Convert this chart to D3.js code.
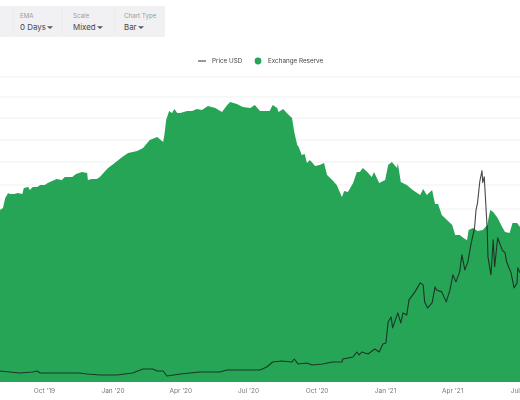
<!DOCTYPE html>
<html>
<head>
<meta charset="utf-8">
<script src="https://cdn.jsdelivr.net/npm/d3@7"></script>
<style>
html,body{margin:0;padding:0;background:#fff;overflow:hidden}
svg{display:block;filter:blur(0.35px);font-family:Inter,Roboto,sans-serif}
</style>
</head>
<body>
<svg id="chart" width="520" height="400"></svg>
<script>
const startDate = "2019-08-03";
const endDate = "2021-07-01";
const xTickDates = ["2019-10-01","2020-01-01","2020-04-01","2020-07-01","2020-10-01","2021-01-01","2021-04-01","2021-07-01"];
const gridValues = [30.5,28.5,26.4,24.2,22,19.7,17.3];
const controlLabels = ["EMA","Scale","Chart Type"];
const controlValues = ["0 Days","Mixed","Bar"];
const legendNames = ["Price USD","Exchange Reserve"];

// days since startDate, exchange reserve (millions)
const reserveDays = [0,4,7,11,13,19,24,30,32,38,40,44,50,54,60,64,70,76,83,87,97,102,110,117,118,123,130,134,140,145,154,164,172,184,192,201,211,219,221,223,227,231,234,238,242,251,258,264,271,279,289,298,305,309,318,326,336,342,349,358,362,366,372,374,380,385,392,395,399,401,405,409,412,416,423,429,435,439,446,452,459,462,467,474,479,483,487,493,499,502,509,517,521,526,533,534,538,546,554,564,568,573,580,584,588,593,600,607,611,617,624,627,629,635,641,648,654,658,662,668,674,678,684,688,694,698];
const reserveValues = [17.2,17.4,18.4,18.9,18.8,18.8,18.9,18.8,19.4,19.5,19.2,19.5,19.5,19.7,19.7,19.9,20.1,20.3,20.2,20.5,20.5,20.8,21.0,20.9,20.2,20.3,20.3,20.5,21.0,21.4,21.9,22.5,22.9,23.1,23.4,24.2,24.5,24.0,24.9,26.2,27.1,26.9,27.3,26.9,26.9,27.1,27.1,27.3,27.2,27.6,27.4,27.0,27.7,28.0,27.8,27.5,27.4,27.7,27.1,27.1,27.1,27.7,27.4,27.0,27.3,26.9,26.4,25.0,23.7,23.5,22.7,22.8,21.9,22.2,21.6,21.7,21.9,20.7,20.2,19.7,18.5,19.1,19.0,19.9,21.0,21.0,21.4,21.0,20.5,21.0,19.9,20.2,21.7,22.0,21.4,21.9,20.0,19.7,19.2,18.7,19.3,18.7,19.2,17.8,17.8,16.7,16.2,15.7,14.7,14.7,14.3,14.2,15.2,15.4,15.1,15.2,15.7,17.2,17.0,16.4,15.5,15.0,14.9,15.9,15.9,15.5];

// days since startDate, price in USD
const priceDays = [0,13,27,44,50,54,81,107,117,134,157,178,192,205,211,219,224,242,268,295,305,349,358,366,378,392,395,400,412,419,433,446,459,460,474,479,482,486,494,503,509,514,518,521,525,527,534,538,541,546,549,557,564,568,570,574,580,584,586,593,599,604,608,612,617,620,624,628,632,637,639,641,644,647,648,650,652,654,655,659,662,664,668,674,678,680,686,690,694,695,698];
const priceValues = [217,197,177,197,217,177,177,177,158,138,138,177,256,256,217,217,118,158,197,197,236,236,296,394,414,394,453,355,374,335,355,394,394,453,493,591,532,591,552,650,591,749,768,1182,1280,1064,1359,1162,1359,1320,1615,1773,1950,1911,1576,1458,1556,1871,1812,1773,1576,1812,2108,1970,2167,2502,2206,2364,2699,3034,3388,3526,3940,4157,3920,4038,3526,2994,2463,2108,2797,2266,2837,2600,2541,2364,2147,1852,1950,2246,2147];

const parse = d3.utcParse("%Y-%m-%d");
const start = parse(startDate);
const toDate = d => d3.utcDay.offset(start, d);

const svg = d3.select("#chart");
const x = d3.scaleUtc().domain([start, parse(endDate)]).range([0, 520]);
const yReserve = d3.scaleLinear().domain([0, 30.5]).range([382, 77]);
const yPrice = d3.scaleLinear().domain([0, 6000]).range([382, 77]);

// toolbar
const bar = svg.append("g");
bar.append("rect").attr("x",0).attr("y",6).attr("width",165).attr("height",31).attr("fill","#f1f1f3");
[13,62,115].forEach(v => bar.append("line").attr("x1",v).attr("x2",v).attr("y1",8).attr("y2",35).attr("stroke","#ebebed"));
const ctrlX = [20,73,124];
const caretX = [50,100,141];
controlLabels.forEach((c,i) => {
  bar.append("text").attr("x",ctrlX[i]).attr("y",17.5).attr("font-size",6.2).attr("fill","#9a9aa2").text(c);
  bar.append("text").attr("x",ctrlX[i]).attr("y",30).attr("font-size",7.9).attr("fill","#45454d").text(controlValues[i]);
  bar.append("path").attr("transform",`translate(${caretX[i]},27.5)`).attr("d","M-3,-1.3L3,-1.3L0,1.6Z").attr("fill","#55555c");
});

// legend
const lg = svg.append("g");
lg.append("line").attr("x1",198).attr("x2",206).attr("y1",61).attr("y2",61).attr("stroke","#333").attr("stroke-width",1);
lg.append("text").attr("x",212).attr("y",63).attr("font-size",6.3).attr("fill","#444").text(legendNames[0]);
lg.append("circle").attr("cx",258).attr("cy",61).attr("r",3.4).attr("fill","#27a556");
lg.append("text").attr("x",268).attr("y",63).attr("font-size",6.3).attr("fill","#444").text(legendNames[1]);

// grid
svg.append("g").selectAll("line").data(gridValues).join("line")
  .attr("x1",0).attr("x2",520)
  .attr("y1",d=>yReserve(d)).attr("y2",d=>yReserve(d))
  .attr("stroke","#f1f1f1").attr("stroke-width",1);

// reserve area
const reserve = reserveDays.map((d,i)=>({date:toDate(d),value:reserveValues[i]}));
svg.append("path").datum(reserve)
  .attr("fill","#27a556")
  .attr("d", d3.area().x(d=>x(d.date)).y0(yReserve(0)).y1(d=>yReserve(d.value)));

// price line
const price = priceDays.map((d,i)=>({date:toDate(d),value:priceValues[i]}));
svg.append("path").datum(price)
  .attr("fill","none").attr("stroke","#1a1a1a").attr("stroke-width",1.1).attr("stroke-opacity",0.8)
  .attr("stroke-linejoin","round")
  .attr("d", d3.line().x(d=>x(d.date)).y(d=>yPrice(d.value)));

// x axis
const fmt = d3.utcFormat("%b '%y");
const axis = svg.append("g").attr("transform","translate(0,382)")
  .call(d3.axisBottom(x).tickValues(xTickDates.map(parse)).tickFormat(fmt).tickSize(0).tickPadding(6));
axis.select(".domain").remove();
axis.selectAll("text").attr("font-size",6.5).attr("font-family","Inter,Roboto,sans-serif").attr("fill","#777");
</script>
</body>
</html>
